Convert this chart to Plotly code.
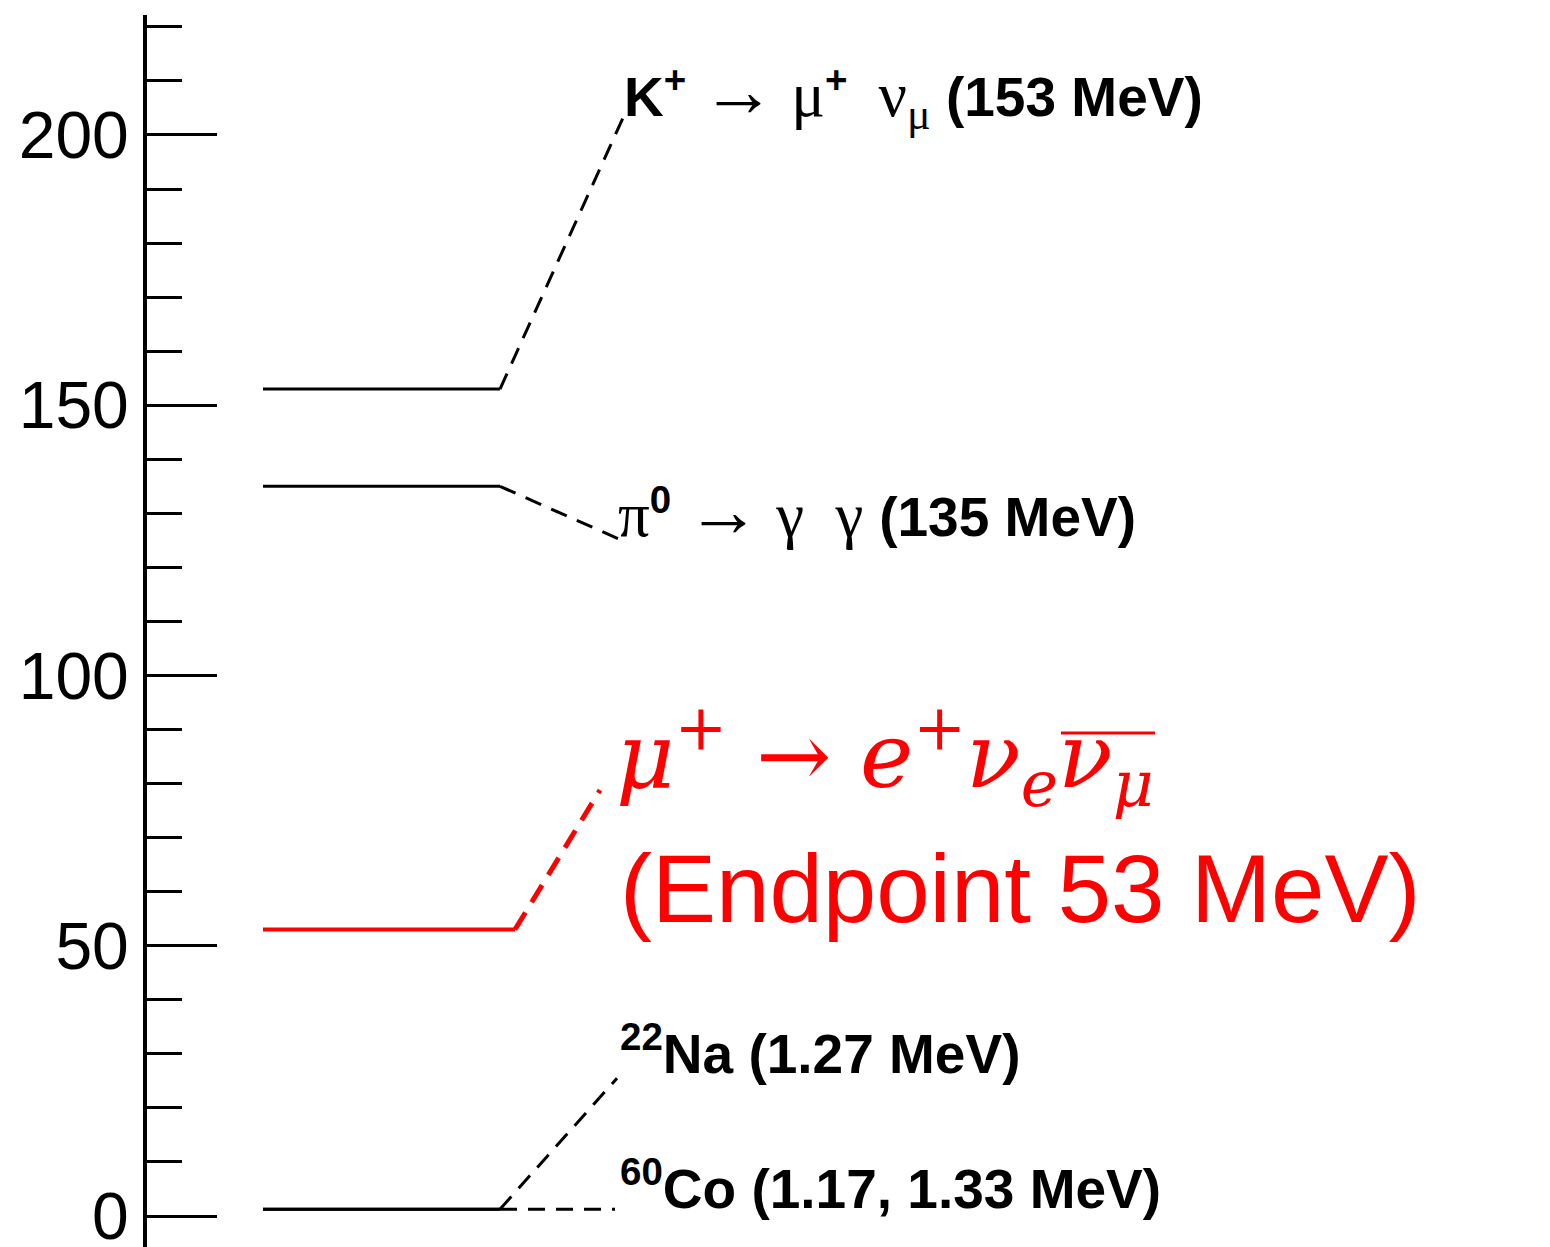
import plotly.graph_objects as go

# ---------------- data ----------------
decays = ["K+ -> mu+ nu_mu", "pi0 -> gamma gamma", "mu+ -> e+ nu_e anti-nu_mu", "22Na", "60Co"]
level_energy_mev = [153.0, 135.0, 53.0, 1.27, 1.25]      # left-hand level lines
label_energy_mev = [203.6, 125.0, 78.8, 25.5, 1.25]      # energy-axis position where each connector reaches its label
level_colors = ["black", "black", "red", "black", "black"]

y_tickvals = [0, 50, 100, 150, 200]
y_ticktext = ["0", "50", "100", "150", "200"]

# ---------------- layout constants (pixel-like x axis) ----------------
W, H = 1550, 1247
level_x0 = 263
level_x1 = [500, 500, 515, 500, 500]
conn_x1 = [624, 622, 600, 617, 615]

fig = go.Figure()

for i, name in enumerate(decays):
    red = level_colors[i] == "red"
    fig.add_trace(go.Scatter(
        x=[level_x0, level_x1[i]], y=[level_energy_mev[i], level_energy_mev[i]],
        mode="lines", line=dict(color=level_colors[i], width=4 if red else 3),
        hoverinfo="skip", showlegend=False))
    fig.add_trace(go.Scatter(
        x=[level_x1[i], conn_x1[i]], y=[level_energy_mev[i], label_energy_mev[i]],
        mode="lines",
        line=dict(color=level_colors[i], width=5 if red else 3,
                  dash="20px,12px" if red else "17px,11px"),
        hoverinfo="skip", showlegend=False))

SANS = "Liberation Sans"
SERIF = "Liberation Serif"
FS = 55

def span(t, family=SERIF, size=None, italic=False):
    st = f"font-family:{family};"
    if size:
        st += f"font-size:{size}px;"
    if italic:
        st += "font-style:italic;"
    return f"<span style='{st}'>{t}</span>"

SER = 63
ARR = 74
labels = [
    (622, 198.8,
     "<b>K<sup>+</sup></b> " + span("→", size=ARR) + span(" μ", size=SER) + "<b><sup>+</sup></b> "
     + span(" ν<sub>μ</sub>", size=SER) + " <b>(153 MeV)</b>"),
    (616, 122.5,
     span("π", size=SER) + "<b><sup>0</sup></b> " + span("→", size=ARR) + span(" γ  γ ", size=SER)
     + "<b>(135 MeV)</b>"),
    (618, 23.9,
     "<b><sup>22</sup>Na (1.27 MeV)</b>"),
    (618, -1.15,
     "<b><sup>60</sup>Co (1.17, 1.33 MeV)</b>"),
]

annotations = []
for x, yv, txt in labels:
    annotations.append(dict(
        x=x, y=yv, xref="x", yref="y", text=txt, showarrow=False,
        xanchor="left", yanchor="bottom",
        font=dict(family=SANS, size=FS, color="black")))

MATH = "DejaVu Serif"
annotations.append(dict(
    x=614, y=72.8, xref="x", yref="y", showarrow=False,
    xanchor="left", yanchor="bottom",
    text=span("μ<sup>+</sup>", family=MATH, italic=True) + span("\u00a0→\u00a0", family=MATH)
    + span("e<sup>+</sup>ν<sub>e</sub>ν<sub>μ</sub>", family=MATH, italic=True),
    font=dict(family=MATH, size=90, color="red")))
annotations.append(dict(
    x=618, y=50.4, xref="x", yref="y", showarrow=False,
    xanchor="left", yanchor="bottom",
    text="(Endpoint 53 MeV)",
    font=dict(family=SANS, size=96, color="red")))

# overline of the anti-neutrino
shapes = [dict(type="line", xref="x", yref="y", x0=1061, x1=1155, y0=89.35, y1=89.35,
               line=dict(color="red", width=3))]

fig.update_layout(
    width=W, height=H,
    margin=dict(l=0, r=0, t=15, b=0, autoexpand=False),
    paper_bgcolor="white", plot_bgcolor="white",
    showlegend=False,
    annotations=annotations,
    shapes=shapes,
    xaxis=dict(range=[0, W], visible=False, domain=[0, 1], fixedrange=True, automargin=False),
    yaxis=dict(
        range=[-5.73, 222.2], anchor="free", position=145 / W, side="left",
        automargin=False,
        showgrid=False, zeroline=False,
        showline=True, linecolor="black", linewidth=4,
        ticks="inside", ticklen=70, tickwidth=3, tickcolor="black",
        tickmode="array", tickvals=y_tickvals, ticktext=y_ticktext,
        ticklabelstandoff=1, ticklabeloverflow="allow",
        tickfont=dict(family=SANS, size=66, color="black"),
        minor=dict(ticks="inside", ticklen=35, tickwidth=3, tickcolor="black",
                   dtick=10, tick0=0, showgrid=False),
    ),
)

fig.write_html("out.html")
